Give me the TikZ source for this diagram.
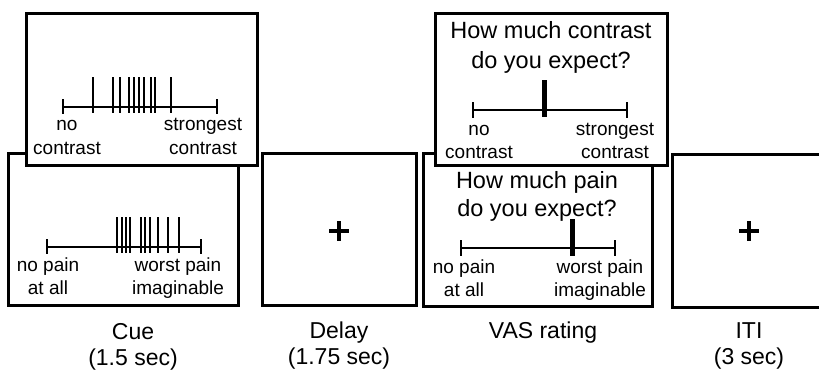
\documentclass[tikz,border=0pt]{standalone}
\usepackage{fontspec}
\setmainfont{Liberation Sans}
\begin{document}
\begin{tikzpicture}[x=1pt,y=-1pt,
  frame/.style={draw=black,line width=3pt,fill=white},
  scaleline/.style={line width=1.8pt},
  tick/.style={line width=1.8pt},
  marker/.style={line width=5pt},
  cross/.style={line width=3.5pt},
  lab/.style={inner sep=0pt,anchor=base,font=\fontsize{19}{22}\selectfont},
  quest/.style={inner sep=0pt,anchor=base,font=\fontsize{23.5}{28}\selectfont},
  capt/.style={inner sep=0pt,anchor=base,font=\fontsize{23}{26}\selectfont}]
\useasboundingbox (0,0) rectangle (819,373);
\clip (0,0) rectangle (819,373);
% ---------------- Cue ----------------
\draw[frame] (8,153) rectangle (238,305);
\draw[scaleline] (47,247) -- (201,247);
\draw[tick] (47,239) -- (47,254) (201,239) -- (201,254);
\foreach \t in {117,122,126,130,141,145,150,158,168,179}
  \draw[tick] (\t,217) -- (\t,253);
\node[lab] (cnp) at (48,271) {no pain};
\node[lab] (caa) at (48,294) {at all};
\node[lab] (cwp) at (178,271) {worst pain};
\node[lab] (cim) at (178,294) {imaginable};
\draw[frame] (26,13) rectangle (257,165);
\draw[scaleline] (63,107) -- (217,107);
\draw[tick] (63,99) -- (63,114) (217,99) -- (217,114);
\foreach \t in {93,113,120,129,134,139,144,151,155,171}
  \draw[tick] (\t,77) -- (\t,113);
\node[lab] (cno) at (67,130) {no};
\node[lab] (cc1) at (67,154) {contrast};
\node[lab] (cst) at (203,130) {strongest};
\node[lab] (cc2) at (203,154) {contrast};
\node[capt] (cue) at (133,339) {Cue};
\node[capt] (cuet) at (133,365) {(1.5 sec)};
% ---------------- Delay ----------------
\draw[frame] (262,153) rectangle (416,305);
\draw[cross] (329,231) -- (349,231) (339,221) -- (339,241);
\node[capt] (del) at (339,338) {Delay};
\node[capt] (delt) at (339,364) {(1.75 sec)};
% ---------------- VAS ----------------
\draw[frame] (423,153) rectangle (652,306);
\node[quest] (vq1) at (537,188) {How much pain};
\node[quest] (vq2) at (537,216) {do you expect?};
\draw[scaleline] (461,248) -- (615,248);
\draw[tick] (461,240) -- (461,256) (615,240) -- (615,256);
\draw[marker] (572,219) -- (572,256);
\node[lab] (vnp) at (464,273) {no pain};
\node[lab] (vaa) at (464,296) {at all};
\node[lab] (vwp) at (600,273) {worst pain};
\node[lab] (vim) at (600,296) {imaginable};
\draw[frame] (435,13) rectangle (667,165);
\node[quest] (vt1) at (551,38) {How much contrast};
\node[quest] (vt2) at (551,68) {do you expect?};
\draw[scaleline] (473,110) -- (627,110);
\draw[tick] (473,102) -- (473,118) (627,102) -- (627,118);
\draw[marker] (544,80) -- (544,117);
\node[lab] (vno) at (479,135) {no};
\node[lab] (vc1) at (479,158) {contrast};
\node[lab] (vst) at (615,135) {strongest};
\node[lab] (vc2) at (615,158) {contrast};
\node[capt] (vas) at (543,338) {VAS rating};
% ---------------- ITI ----------------
\draw[frame] (672,154) rectangle (840,307);
\draw[cross] (739,231) -- (759,231) (749,221) -- (749,241);
\node[capt] (iti) at (749,338) {ITI};
\node[capt] (itit) at (749,364) {(3 sec)};
\end{tikzpicture}
\end{document}
